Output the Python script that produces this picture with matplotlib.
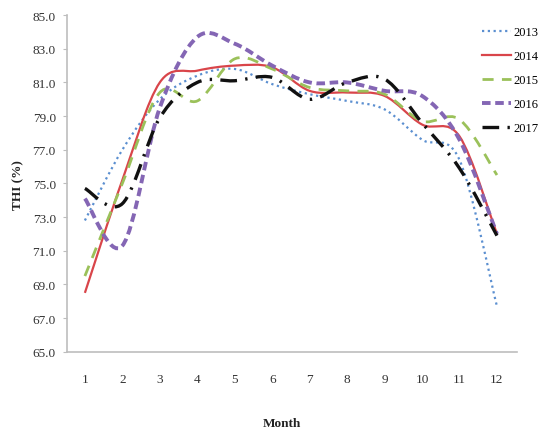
import numpy as np
import matplotlib.pyplot as plt
from matplotlib.path import Path
from matplotlib.patches import PathPatch
from matplotlib.lines import Line2D

plt.rcParams['font.family'] = ['Liberation Serif', 'DejaVu Serif']

months = list(range(1, 13))
thi_2013 = [72.8, 77.0, 80.0, 81.4, 81.8, 80.9, 80.3, 79.9, 79.4, 77.6, 76.4, 67.7]
thi_2014 = [68.5, 75.2, 81.0, 81.7, 82.0, 81.9, 80.5, 80.4, 80.2, 78.5, 77.8, 72.0]
thi_2015 = [69.5, 75.0, 80.4, 79.9, 82.4, 81.8, 80.7, 80.5, 80.3, 78.7, 78.8, 75.5]
thi_2016 = [74.1, 71.3, 79.5, 83.7, 83.3, 82.0, 81.0, 81.0, 80.5, 80.2, 77.6, 72.0]
thi_2017 = [74.7, 73.8, 78.9, 81.0, 81.1, 81.3, 80.0, 81.0, 81.2, 78.6, 75.9, 71.9]
years = ['2013', '2014', '2015', '2016', '2017']

styles = [
    dict(color='#5b8fd0', lw=1.6, ls=(0, (1, 1.6))),
    dict(color='#d9454a', lw=1.6, ls='-'),
    dict(color='#9bc15a', lw=2.0, ls=(0, (4, 3))),
    dict(color='#8466b4', lw=2.8, ls=(0, (2.2, 1.2))),
    dict(color='#111111', lw=2.4, ls=(0, (5, 2.5, 0.7, 2.5))),
]


def smooth_path(x, y):
    # Excel-style smoothed line: cubic Bezier through each point
    pts = np.column_stack([x, y]).astype(float)
    ext = np.vstack([pts[0], pts, pts[-1]])
    verts = [pts[0]]
    codes = [Path.MOVETO]
    for i in range(len(pts) - 1):
        p0, p1, p2, p3 = ext[i], ext[i + 1], ext[i + 2], ext[i + 3]
        verts += [p1 + (p2 - p0) / 6, p2 - (p3 - p1) / 6, p2]
        codes += [Path.CURVE4] * 3
    return Path(verts, codes)


fig = plt.figure(figsize=(5.44, 4.35), dpi=100)
ax = fig.add_axes([0.123, 0.189, 0.827, 0.774])

handles = []
for vals, year, st in zip([thi_2013, thi_2014, thi_2015, thi_2016, thi_2017], years, styles):
    patch = PathPatch(smooth_path(months, vals), fill=False, edgecolor=st['color'],
                      lw=st['lw'], linestyle=st['ls'], capstyle='butt')
    ax.add_patch(patch)
    handles.append(Line2D([], [], color=st['color'], lw=st['lw'], ls=st['ls'], label=year))

ax.set_xlim(0.52, 12.53)
ax.set_ylim(65, 85)
ax.set_xticks(months)
ax.set_yticks(np.arange(65, 86, 2))
ax.set_yticklabels([f'{v:.1f}' for v in np.arange(65, 86, 2)])

for side in ['top', 'right']:
    ax.spines[side].set_visible(False)
for side in ['left', 'bottom']:
    ax.spines[side].set_color('#bdbdbd')
    ax.spines[side].set_linewidth(1.2)

ax.tick_params(axis='y', length=3, color='#bdbdbd', labelsize=9.5, pad=5, labelcolor='#333333')
ax.tick_params(axis='x', length=0, labelsize=9.5, pad=15, labelcolor='#333333')

fig.text(0.518, 0.025, 'Month', ha='center', va='center', fontsize=9.5, fontweight='bold', color='#222222')
fig.text(0.033, 0.575, 'THI (%)', ha='center', va='center', rotation=90,
         fontsize=9.5, fontweight='bold', color='#222222')

fig.legend(handles=handles, loc='upper left', bbox_to_anchor=(0.886, 0.937),
           frameon=False, fontsize=9, handlelength=2.3, handletextpad=0.2,
           labelspacing=0.95, borderpad=0, borderaxespad=0)

fig.savefig('out.png', dpi=100, facecolor='white')
